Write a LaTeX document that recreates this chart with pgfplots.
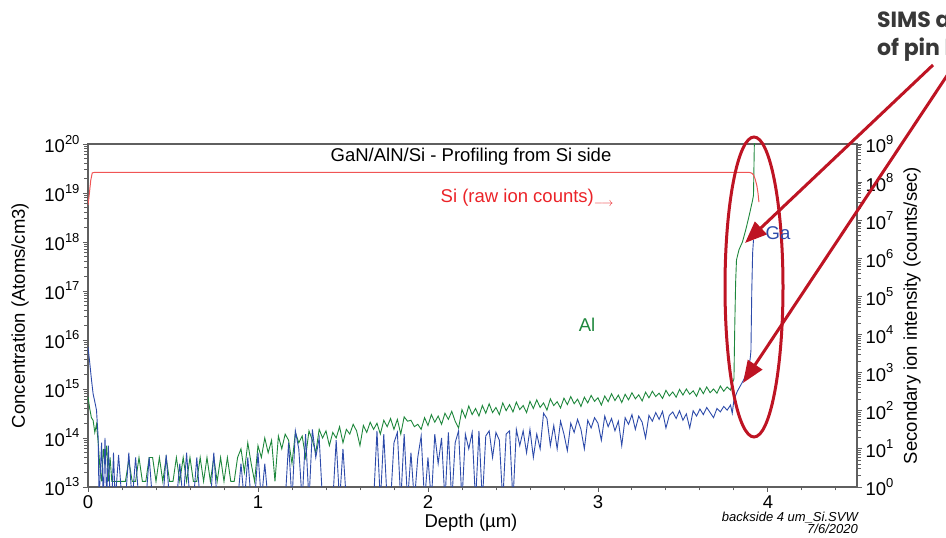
\documentclass[border=0pt]{standalone}
\usepackage{fontspec}
\setmainfont{Liberation Sans}
\newfontfamily\popfont{Poppins}
\usepackage{pgfplots}
\pgfplotsset{compat=1.18}
\usetikzlibrary{arrows.meta}
\definecolor{alg}{RGB}{30,135,60}
\definecolor{gab}{RGB}{45,75,170}
\definecolor{sir}{RGB}{240,85,85}
\definecolor{sitxt}{RGB}{235,35,40}
\definecolor{annr}{RGB}{190,20,35}
\definecolor{axg}{RGB}{95,95,95}
\newcommand{\tl}[1]{10\raisebox{0.48em}{\fontsize{13}{13}\selectfont #1}}
\pgfplotsset{
  logtl/.style={
    /pgf/number format/assume math mode=true,
    yticklabel={\tl{\pgfmathprintnumber[fixed,precision=0]{\tick}}},
  }
}

\begin{document}
\begin{tikzpicture}[font=\fontsize{18.5}{22}\selectfont]
\useasboundingbox (0pt,0pt) rectangle (946pt,538pt);
\begin{scope}
\clip (0pt,0pt) rectangle (946pt,538pt);
\begin{axis}[
  at={(88pt,51pt)}, anchor=south west, scale only axis,
  width=769pt, height=343pt,
  xmin=0, xmax=4.524,
  ymode=log, log basis y=10, ymin=1e13, ymax=1e20,
  xtick={0,1,2,3,4}, xticklabels={0,1,2,3,4},
  minor xtick={0.2,0.4,0.6,0.8,1.2,1.4,1.6,1.8,2.2,2.4,2.6,2.8,3.2,3.4,3.6,3.8,4.2,4.4},
  xtick pos=bottom, ytick pos=left, tick align=outside,
  logtl,
  axis line style={axg,line width=1.3pt},
  every tick/.style={axg,line width=0.9pt},
  major tick length=5pt, minor tick length=3.5pt,
  xlabel={Depth (µm)},
  ylabel={Concentration (Atoms/cm3)},
  every axis x label/.style={at={(axis description cs:0.498,-0.105)},anchor=center},
  every axis y label/.style={at={(axis description cs:-0.0884,0.5)},rotate=90,anchor=center},
  clip=true,
]
% Al (green)
\addplot[alg, line width=0.9pt] coordinates {
(0.00,6.9e14)(0.01,4.0e14)(0.02,2.6e14)(0.03,2.3e14)(0.04,1.3e14)(0.05,1.9e14)(0.06,8e13)(0.07,2.5e13)
(0.08,1.3e13)(0.09,6e13)(0.10,3e13)(0.11,7e13)(0.12,1.3e13)(0.13,4e13)(0.14,1.3e13)
(0.16,1.3e13)(0.18,1.3e13)(0.20,1.3e13)(0.22,1.3e13)(0.24,3.5e13)(0.26,1.3e13)(0.28,1.3e13)(0.30,4e13)
(0.32,1.3e13)(0.34,1.3e13)(0.36,4e13)(0.38,4e13)(0.40,1.3e13)(0.42,4e13)(0.44,1.3e13)(0.46,4e13)
(0.48,1.3e13)(0.50,1.3e13)(0.52,4e13)(0.54,1.3e13)(0.56,4e13)(0.58,1.3e13)(0.60,4e13)(0.62,1.3e13)
(0.64,1.3e13)(0.66,4e13)(0.68,1.3e13)(0.70,4e13)(0.72,1.3e13)(0.74,4e13)(0.76,1.3e13)(0.78,4e13)
(0.80,1.3e13)(0.82,4e13)(0.84,1.3e13)(0.86,1.3e13)(0.88,4e13)(0.90,6e13)(0.92,2e13)(0.94,8e13)
(0.96,3e13)(0.98,1.3e13)(1.00,7e13)(1.02,4e13)(1.04,1.0e14)(1.06,5e13)(1.08,9e13)(1.10,1.3e13)
(1.12,1.1e14)(1.14,6e13)(1.16,1.2e14)(1.18,9e13)(1.20,3e13)(1.22,1.3e14)(1.24,8e13)(1.26,1.1e14)
(1.28,4e13)(1.30,1.4e14)(1.32,9e13)(1.34,5e13)(1.36,1.5e14)(1.38,1.0e14)(1.40,1.4e14)(1.42,7e13)
(1.44,1.3e14)(1.46,1.0e14)(1.48,1.7e14)(1.50,8e13)(1.52,1.5e14)(1.54,1.2e14)(1.56,1.9e14)(1.58,1.4e14)
(1.60,7e13)(1.62,1.8e14)(1.64,1.3e14)(1.66,2.1e14)(1.68,1.5e14)(1.70,2.0e14)(1.72,1.2e14)(1.74,2.3e14)
(1.76,1.7e14)(1.78,2.5e14)(1.80,1.5e14)(1.82,2.4e14)(1.84,1.2e14)(1.86,2.7e14)(1.88,2.2e14)(1.90,2.3e14)
(1.92,1.7e14)(1.94,1.9e14)(1.96,1.5e14)(1.98,2.6e14)(2.00,1.8e14)(2.02,3.0e14)(2.04,2.1e14)(2.06,2.8e14)
(2.08,1.9e14)(2.10,3.2e14)(2.12,2.4e14)(2.14,3.5e14)(2.16,2.2e14)(2.18,1.6e14)(2.20,3.8e14)(2.22,2.6e14)
(2.24,4.5e14)(2.26,3.0e14)(2.28,4.0e14)(2.30,2.8e14)(2.32,4.6e14)(2.34,3.2e14)(2.36,5.0e14)(2.38,3.3e14)
(2.40,4.2e14)(2.42,3.0e14)(2.44,5.2e14)(2.46,3.6e14)(2.48,4.8e14)(2.50,3.4e14)(2.52,5.4e14)(2.54,3.8e14)
(2.56,4.6e14)(2.58,3.3e14)(2.60,5.6e14)(2.62,4.0e14)(2.64,6.0e14)(2.66,4.2e14)(2.68,5.2e14)(2.70,3.7e14)
(2.72,6.3e14)(2.74,4.6e14)(2.76,5.5e14)(2.78,4.1e14)(2.80,6.5e14)(2.82,4.8e14)(2.84,7.0e14)(2.86,5.0e14)
(2.88,6.2e14)(2.90,4.4e14)(2.92,6.8e14)(2.94,5.2e14)(2.96,7.4e14)(2.98,5.6e14)(3.00,6.6e14)(3.02,4.7e14)
(3.04,7.2e14)(3.06,5.5e14)(3.08,8.0e14)(3.10,5.8e14)(3.12,7.5e14)(3.14,5.3e14)(3.16,7.8e14)(3.18,6.0e14)
(3.20,8.4e14)(3.22,6.3e14)(3.24,7.6e14)(3.26,5.7e14)(3.28,8.6e14)(3.30,6.6e14)(3.32,9.0e14)(3.34,7.0e14)
(3.36,8.2e14)(3.38,6.4e14)(3.40,9.4e14)(3.42,7.2e14)(3.44,8.7e14)(3.46,6.8e14)(3.48,9.8e14)(3.50,7.5e14)
(3.52,1.0e15)(3.54,7.8e14)(3.56,9.2e14)(3.58,7.1e14)(3.60,1.05e15)(3.62,8.0e14)(3.64,1.1e15)(3.66,8.4e14)
(3.68,1.0e15)(3.70,8.2e14)(3.72,1.15e15)(3.74,9.0e14)(3.76,1.1e15)(3.78,9.5e14)(3.79,1.3e15)(3.80,1.6e15)
(3.805,2e16)(3.81,1.5e17)(3.815,4.3e17)(3.83,7e17)(3.85,1e18)(3.87,1.8e18)(3.89,3.5e18)(3.91,7.2e18)
(3.915,9e18)(3.92,1e20)(3.925,3e20)
};
% Ga (blue)
\addplot[gab, line width=0.9pt] coordinates {
(0.00,7.2e15)(0.01,3.5e15)(0.02,1.6e15)(0.03,8e14)(0.04,5.5e14)(0.05,3.7e14)(0.06,1e14)(0.065,5e12)
(0.08,8e13)(0.09,5e12)(0.10,1e14)(0.11,5e12)(0.12,7e13)(0.13,5e12)(0.14,5e12)(0.15,5e13)(0.16,5e12)
(0.18,4.5e13)(0.20,5e12)(0.22,5e12)(0.24,5e13)(0.26,5e12)(0.28,4e13)(0.30,5e12)(0.32,5e12)(0.34,5e12)
(0.36,4e13)(0.38,5e12)(0.40,5e12)(0.42,5e12)(0.44,5e12)(0.46,4.5e13)(0.48,5e12)(0.50,5e12)(0.52,5e12)
(0.54,3e13)(0.56,5e12)(0.58,5e13)(0.60,5e12)(0.62,5e12)(0.64,4e13)(0.66,5e12)(0.68,5e12)(0.70,5e12)
(0.72,5e12)(0.74,5e13)(0.76,5e12)(0.78,5e12)(0.80,5e12)(0.82,5e12)(0.84,5e12)(0.86,5e12)(0.88,5e12)
(0.90,3e13)(0.92,5e12)(0.94,4e13)(0.96,5e12)(0.98,5e12)(1.00,5e13)(1.02,5e12)(1.04,3e13)(1.06,5e12)
(1.08,5e12)(1.10,5e12)(1.12,5e12)(1.14,5e12)(1.16,5e12)(1.18,8e13)(1.20,5e12)(1.22,1.4e14)(1.24,6e13)
(1.26,5e12)(1.28,1.2e14)(1.30,5e12)(1.32,1.5e14)(1.34,4e13)(1.36,1e14)(1.38,5e12)(1.40,5e12)(1.42,5e12)
(1.44,5e12)(1.46,9e13)(1.48,5e12)(1.50,6e13)(1.52,5e12)(1.54,5e12)(1.56,5e12)(1.58,5e12)(1.60,5e12)
(1.62,5e12)(1.64,5e12)(1.66,5e12)(1.68,5e12)(1.70,1.4e14)(1.72,5e12)(1.74,1.2e14)(1.76,5e12)(1.78,5e12)
(1.80,8e13)(1.82,1.3e14)(1.84,5e12)(1.86,1.2e14)(1.88,5e12)(1.90,5e13)(1.92,5e12)(1.94,4e13)(1.96,1.1e14)
(1.98,5e12)(2.00,4e13)(2.02,5e12)(2.04,1.2e14)(2.06,3e13)(2.08,1e14)(2.10,5e12)(2.12,1.3e14)(2.14,5e12)
(2.16,8e13)(2.18,1.4e14)(2.20,5e12)(2.22,1.2e14)(2.24,6e13)(2.26,1.3e14)(2.28,5e12)(2.30,1.4e14)(2.32,5e12)
(2.34,1.1e14)(2.36,1.4e14)(2.38,4e13)(2.40,1.3e14)(2.42,9e13)(2.44,5e12)(2.46,1.2e14)(2.48,1.4e14)(2.50,5e12)
(2.52,1.5e14)(2.54,7e13)(2.56,1.4e14)(2.58,5e13)(2.60,1.5e14)(2.62,4e13)(2.64,1.2e14)(2.66,6e13)(2.68,3.2e14)
(2.70,2.5e14)(2.72,7e13)(2.74,1.8e14)(2.76,6e13)(2.78,2.2e14)(2.80,1.2e14)(2.82,5.5e13)(2.84,2e14)(2.86,1.3e14)
(2.88,2.4e14)(2.90,1.5e14)(2.92,6e13)(2.94,2.3e14)(2.96,1.6e14)(2.98,2.6e14)(3.00,2e14)(3.02,9e13)(3.04,2.8e14)
(3.06,1.7e14)(3.08,2.5e14)(3.10,1.4e14)(3.12,2.2e14)(3.14,7e13)(3.16,2.6e14)(3.18,1.9e14)(3.20,3e14)(3.22,1.5e14)
(3.24,2.8e14)(3.26,2.1e14)(3.28,1e14)(3.30,2.9e14)(3.32,2.2e14)(3.34,3.3e14)(3.36,2.4e14)(3.38,3.5e14)(3.40,1.6e14)
(3.42,2.9e14)(3.44,3.4e14)(3.46,2.5e14)(3.48,3.6e14)(3.50,2.3e14)(3.52,3.1e14)(3.54,1.6e14)(3.56,3.6e14)(3.58,2.8e14)
(3.60,3.9e14)(3.62,3e14)(3.64,4.2e14)(3.66,3.3e14)(3.68,2.6e14)(3.70,4e14)(3.72,3.4e14)(3.74,4.4e14)(3.76,3.7e14)
(3.78,4.7e14)(3.79,3.2e14)(3.80,6e14)(3.82,9e14)(3.84,1.2e15)(3.86,1.6e15)(3.88,2.6e15)(3.895,4e15)(3.90,6e15)
(3.905,1e17)(3.91,6e17)(3.915,1.1e18)
};
\end{axis}
\begin{axis}[
  at={(88pt,51pt)}, anchor=south west, scale only axis,
  width=769pt, height=343pt,
  xmin=0, xmax=4.524,
  ymode=log, log basis y=10, ymin=1, ymax=1e9,
  axis y line*=right, axis x line=none, tick align=outside,
  logtl,
  axis line style={axg,line width=1.3pt},
  every tick/.style={axg,line width=0.9pt},
  major tick length=5pt, minor tick length=3.5pt,
  ylabel={Secondary ion intensity (counts/sec)},
  every axis y label/.style={at={(axis description cs:1.0715,0.5)},rotate=90,anchor=center},
  clip=true,
]
% Si (raw ion counts)
\addplot[sir, line width=1pt] coordinates {
(0.00,2.5e7)(0.008,5e7)(0.016,1.1e8)(0.025,1.75e8)(0.04,1.8e8)(1.0,1.8e8)(2.0,1.8e8)(3.0,1.8e8)
(3.89,1.8e8)(3.905,1.72e8)(3.915,1.55e8)(3.925,1.2e8)(3.935,8e7)(3.942,5e7)(3.947,3e7)
};
\end{axis}
% annotations
\draw[annr, line width=3pt] (754pt,251pt) ellipse [x radius=29pt, y radius=150pt];
\draw[annr, line width=3pt, -{Triangle[length=22pt,width=17pt]}] (933pt,473pt) -- (745pt,295pt);
\draw[annr, line width=3pt, -{Triangle[length=22pt,width=17pt]}] (960pt,482pt) -- (743pt,155pt);
\node at (471pt,381pt) {GaN/AlN/Si - Profiling from Si side};
\node[text=sitxt] at (527pt,340pt) {Si (raw ion counts)\raisebox{-0.2em}{\fontsize{13}{13}\selectfont$\longrightarrow$}};
\node[text=alg] at (587pt,213pt) {Al};
\node[text=gab] at (778pt,305pt) {Ga};
\node[anchor=east, inner sep=0pt, font=\fontsize{13}{15}\selectfont\itshape] at (858pt,20pt) {backside 4 um\_Si.SVW};
\node[anchor=east, inner sep=0pt, font=\fontsize{13}{15}\selectfont\itshape] at (858pt,9pt) {7/6/2020};
\node[anchor=west, inner sep=0pt, text=black!78, font=\popfont\bfseries\fontsize{22}{26}\selectfont] at (877pt,518pt) {SIMS a};
\node[anchor=west, inner sep=0pt, text=black!78, font=\popfont\bfseries\fontsize{22}{26}\selectfont] at (877pt,488pt) {of pin l};
\end{scope}
\end{tikzpicture}
\end{document}
